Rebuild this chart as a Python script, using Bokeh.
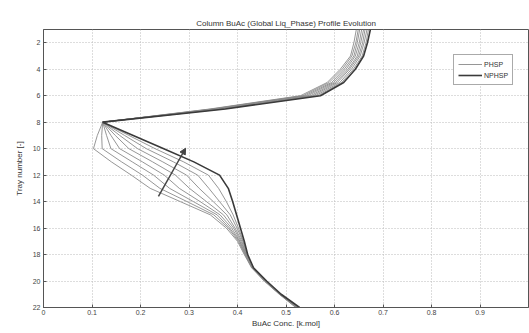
from bokeh.plotting import figure
from bokeh.models import Range1d, FixedTicker, Arrow, NormalHead, Legend, LegendItem
from bokeh.embed import file_html
from bokeh.resources import INLINE

trays = list(range(1, 23))

# PHSP profiles (evolution from left/lower profile to right/upper profile)
phsp_1 = [0.645, 0.640, 0.633, 0.612, 0.585, 0.530, 0.344, 0.122, 0.111, 0.103, 0.140, 0.181, 0.220, 0.282, 0.344, 0.377, 0.400, 0.414, 0.429, 0.455, 0.486, 0.520]
phsp_2 = [0.649, 0.644, 0.636, 0.616, 0.589, 0.535, 0.348, 0.122, 0.120, 0.121, 0.161, 0.204, 0.240, 0.296, 0.351, 0.381, 0.402, 0.415, 0.430, 0.456, 0.487, 0.521]
phsp_3 = [0.652, 0.647, 0.640, 0.620, 0.594, 0.540, 0.352, 0.122, 0.130, 0.139, 0.183, 0.227, 0.260, 0.309, 0.358, 0.384, 0.404, 0.416, 0.430, 0.456, 0.487, 0.522]
phsp_4 = [0.656, 0.651, 0.643, 0.624, 0.598, 0.545, 0.356, 0.122, 0.139, 0.157, 0.204, 0.249, 0.280, 0.323, 0.364, 0.388, 0.405, 0.417, 0.431, 0.457, 0.488, 0.523]
phsp_5 = [0.660, 0.654, 0.647, 0.628, 0.602, 0.551, 0.360, 0.122, 0.148, 0.176, 0.225, 0.272, 0.301, 0.336, 0.371, 0.392, 0.407, 0.418, 0.431, 0.458, 0.488, 0.524]
phsp_6 = [0.663, 0.658, 0.650, 0.631, 0.606, 0.556, 0.363, 0.122, 0.157, 0.194, 0.246, 0.295, 0.321, 0.350, 0.378, 0.395, 0.409, 0.418, 0.432, 0.458, 0.489, 0.525]
phsp_7 = [0.667, 0.661, 0.653, 0.635, 0.611, 0.561, 0.367, 0.122, 0.167, 0.212, 0.268, 0.318, 0.341, 0.363, 0.385, 0.399, 0.411, 0.419, 0.432, 0.459, 0.489, 0.526]
phsp_8 = [0.670, 0.665, 0.657, 0.639, 0.615, 0.566, 0.371, 0.122, 0.176, 0.230, 0.289, 0.340, 0.361, 0.377, 0.391, 0.402, 0.412, 0.420, 0.433, 0.459, 0.490, 0.527]
# NPHSP profile (dark)
nphsp = [0.674, 0.668, 0.660, 0.643, 0.619, 0.571, 0.375, 0.122, 0.185, 0.248, 0.310, 0.363, 0.381, 0.390, 0.398, 0.406, 0.414, 0.421, 0.433, 0.460, 0.490, 0.528]

phsp_series = [phsp_1, phsp_2, phsp_3, phsp_4, phsp_5, phsp_6, phsp_7, phsp_8]

x_ticks = [0, 0.1, 0.2, 0.3, 0.4, 0.5, 0.6, 0.7, 0.8, 0.9]
x_tick_labels = ["0", "0.1", "0.2", "0.3", "0.4", "0.5", "0.6", "0.7", "0.8", "0.9"]
y_ticks = [2, 4, 6, 8, 10, 12, 14, 16, 18, 20, 22]

arrow_x = [0.237, 0.293]
arrow_y = [13.6, 9.97]

FONT = "Liberation Sans"

p = figure(width=529, height=333, output_backend="svg", toolbar_location=None,
           x_range=Range1d(0, 1), y_range=Range1d(22, 1),
           min_border_left=43, min_border_right=1, min_border_top=29, min_border_bottom=26,
           title="Column BuAc (Global Liq_Phase) Profile Evolution")
p.title.text_font = FONT
p.title.text_font_size = "8px"
p.title.text_font_style = "normal"
p.title.align = "center"
p.title.text_color = "#333333"
p.title.standoff = 3
p.title.offset = 0

p.outline_line_color = "#555555"
p.background_fill_color = "white"
p.border_fill_color = "white"

for ax in (p.xaxis[0], p.yaxis[0]):
    ax.axis_line_color = "#555555"
    ax.major_tick_in = 3
    ax.major_tick_out = 0
    ax.minor_tick_line_color = None
    ax.major_tick_line_color = "#555555"
    ax.major_label_text_font = FONT
    ax.major_label_text_font_size = "7px"
    ax.major_label_text_color = "#444444"
    ax.axis_label_text_font = FONT
    ax.axis_label_text_font_size = "8px"
    ax.axis_label_text_font_style = "normal"
    ax.axis_label_text_color = "#333333"

p.xaxis.ticker = FixedTicker(ticks=x_ticks)
p.xaxis.major_label_overrides = {t: l for t, l in zip(x_ticks, x_tick_labels)}
p.xaxis.axis_label = "BuAc Conc. [k.mol]"
p.xaxis.major_label_standoff = 2
p.xaxis.axis_label_standoff = 1
p.yaxis.ticker = FixedTicker(ticks=y_ticks)
p.yaxis.axis_label = "Tray number [-]"
p.yaxis.major_label_standoff = 3
p.yaxis.axis_label_standoff = 6

p.grid.grid_line_color = "#bbbbbb"
p.grid.grid_line_dash = "1 2"
p.grid.grid_line_width = 1

phsp_renderers = []
for s in phsp_series:
    r = p.line(s, trays, line_color="#8a8a8a", line_width=0.9)
    phsp_renderers.append(r)
r_n = p.line(nphsp, trays, line_color="#3a3a3a", line_width=1.6)

p.add_layout(Arrow(end=NormalHead(size=6, fill_color="#444444", line_color="#444444"),
                   x_start=arrow_x[0], y_start=arrow_y[0], x_end=arrow_x[1], y_end=arrow_y[1],
                   line_color="#444444", line_width=1.5))

legend = Legend(items=[LegendItem(label="PHSP", renderers=[phsp_renderers[0]]),
                       LegendItem(label="NPHSP", renderers=[r_n])],
                location=(410, 222))
legend.label_text_font = FONT
legend.label_text_font_size = "7px"
legend.label_text_color = "#333333"
legend.glyph_height = 10
legend.glyph_width = 24
legend.label_height = 10
legend.spacing = 1
legend.padding = 4
legend.margin = 0
legend.label_standoff = 2
legend.border_line_color = "#555555"
legend.background_fill_alpha = 1
p.add_layout(legend, "center")

open("out.html", "w").write(file_html(p, INLINE))
